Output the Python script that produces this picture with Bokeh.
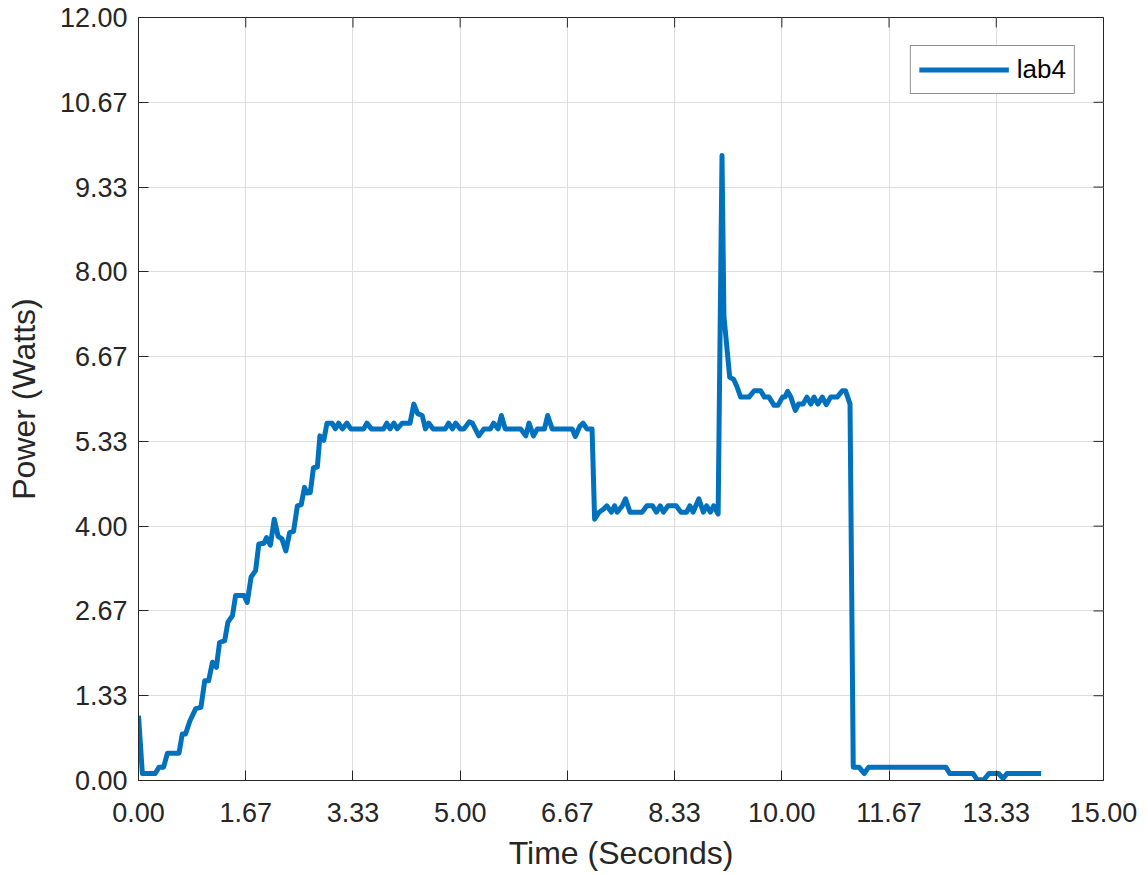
from bokeh.plotting import figure
from bokeh.models import FixedTicker, NumeralTickFormatter, Range1d, Legend, LegendItem
from bokeh.embed import file_html
from bokeh.resources import INLINE

# Data
time_s = [0.00, 0.06, 0.26, 0.32, 0.39, 0.45, 0.63, 0.68, 0.73, 0.80, 0.89, 0.97, 1.03,
          1.09, 1.15, 1.21, 1.26, 1.34, 1.39, 1.46, 1.51, 1.64, 1.69, 1.75, 1.82, 1.87,
          1.95, 1.99, 2.05, 2.11, 2.17, 2.23, 2.29, 2.35, 2.41, 2.47, 2.53, 2.58, 2.62,
          2.67, 2.72, 2.78, 2.82, 2.88, 2.93, 3.01, 3.06, 3.11, 3.17, 3.24, 3.30, 3.50,
          3.55, 3.62, 3.81, 3.86, 3.91, 3.97, 4.02, 4.10, 4.22, 4.28, 4.34, 4.41, 4.46,
          4.51, 4.58, 4.77, 4.82, 4.88, 4.93, 5.00, 5.06, 5.14, 5.19, 5.29, 5.37, 5.47,
          5.52, 5.59, 5.64, 5.70, 5.94, 6.02, 6.07, 6.14, 6.20, 6.31, 6.36, 6.43, 6.74,
          6.79, 6.86, 6.91, 6.97, 7.05, 7.09, 7.16, 7.23, 7.28, 7.35, 7.40, 7.44, 7.52,
          7.57, 7.64, 7.83, 7.90, 7.99, 8.05, 8.11, 8.16, 8.23, 8.36, 8.43, 8.52, 8.57,
          8.62, 8.71, 8.78, 8.83, 8.89, 8.94, 9.01, 9.07, 9.10, 9.19, 9.25, 9.30, 9.36,
          9.49, 9.57, 9.67, 9.73, 9.80, 9.88, 9.94, 10.01, 10.05, 10.09, 10.14, 10.21,
          10.26, 10.33, 10.39, 10.45, 10.50, 10.56, 10.63, 10.69, 10.76, 10.86, 10.94,
          10.99, 11.06, 11.11, 11.20, 11.28, 11.35, 12.55, 12.61, 12.97, 13.04, 13.14,
          13.22, 13.37, 13.44, 13.50, 14.03]
power_w = [1.02, 0.11, 0.11, 0.21, 0.21, 0.43, 0.43, 0.73, 0.73, 0.94, 1.13, 1.15, 1.57,
           1.57, 1.86, 1.78, 2.17, 2.20, 2.49, 2.59, 2.91, 2.91, 2.80, 3.20, 3.30, 3.72,
           3.73, 3.82, 3.70, 4.11, 3.84, 3.80, 3.61, 3.90, 3.92, 4.32, 4.34, 4.61, 4.52,
           4.53, 4.92, 4.93, 5.42, 5.35, 5.62, 5.62, 5.53, 5.62, 5.53, 5.62, 5.53, 5.53,
           5.62, 5.53, 5.53, 5.62, 5.53, 5.62, 5.53, 5.62, 5.62, 5.92, 5.77, 5.74, 5.53,
           5.62, 5.53, 5.53, 5.62, 5.53, 5.62, 5.53, 5.53, 5.64, 5.62, 5.42, 5.53, 5.53,
           5.62, 5.53, 5.74, 5.53, 5.53, 5.42, 5.62, 5.42, 5.53, 5.53, 5.74, 5.53, 5.53,
           5.41, 5.57, 5.62, 5.53, 5.53, 4.11, 4.22, 4.27, 4.32, 4.22, 4.32, 4.22, 4.32,
           4.43, 4.22, 4.22, 4.32, 4.32, 4.22, 4.32, 4.22, 4.32, 4.32, 4.22, 4.22, 4.32,
           4.22, 4.43, 4.22, 4.32, 4.22, 4.32, 4.19, 9.83, 7.30, 6.34, 6.31, 6.20, 6.03,
           6.03, 6.13, 6.13, 6.03, 6.03, 5.90, 5.90, 6.03, 6.03, 6.12, 6.03, 5.82,
           5.92, 5.92, 6.03, 5.92, 6.03, 5.92, 6.03, 5.91, 6.03, 6.03, 6.13,
           6.13, 5.92, 0.21, 0.21, 0.11, 0.21, 0.21, 0.11, 0.11, 0.01, 0.01,
           0.11, 0.11, 0.03, 0.11, 0.11]

x_ticks = [0.0, 5/3, 10/3, 5.0, 20/3, 25/3, 10.0, 35/3, 40/3, 15.0]
y_ticks = [0.0, 4/3, 8/3, 4.0, 16/3, 20/3, 8.0, 28/3, 32/3, 12.0]
x_lim = (0.0, 15.0)
y_lim = (0.0, 12.0)
series_name = "lab4"

FONT = "Liberation Sans"
TXT = "#262626"
BLUE = "#0072BD"

p = figure(width=1140, height=873, output_backend="svg", toolbar_location=None,
           x_range=Range1d(*x_lim), y_range=Range1d(*y_lim),
           min_border_left=138, min_border_right=37, min_border_top=17, min_border_bottom=93)
p.background_fill_color = "white"
p.border_fill_color = "white"
p.outline_line_color = TXT
p.outline_line_width = 1

r = p.line(time_s, power_w, line_color=BLUE, line_width=5, line_join="round")

xa = p.xaxis[0]
ya = p.yaxis[0]
for ax, ticks in ((xa, x_ticks), (ya, y_ticks)):
    ax.ticker = FixedTicker(ticks=ticks)
    ax.formatter = NumeralTickFormatter(format="0.00")
    ax.axis_line_color = TXT
    ax.major_tick_line_color = TXT
    ax.major_tick_in = 10
    ax.major_tick_out = 0
    ax.minor_tick_line_color = None
    ax.major_label_text_font = FONT
    ax.major_label_text_color = TXT
    ax.major_label_text_font_size = "27px"
    ax.axis_label_text_font = FONT
    ax.axis_label_text_font_size = "32px"
    ax.axis_label_text_font_style = "normal"
    ax.axis_label_text_color = TXT
xa.major_label_standoff = 22
ya.major_label_standoff = 11
xa.axis_label = "Time (Seconds)"
ya.axis_label = "Power (Watts)"
xa.axis_label_standoff = 10
ya.axis_label_standoff = 15

# mirrored inward ticks on the top and right edges of the box
p.ray(x=x_ticks, y=[y_lim[1]] * len(x_ticks), length=10, length_units="screen",
      angle=-90, angle_units="deg", line_color=TXT, line_width=1)
p.ray(x=[x_lim[1]] * len(y_ticks), y=y_ticks, length=10, length_units="screen",
      angle=180, angle_units="deg", line_color=TXT, line_width=1)

p.xgrid.ticker = FixedTicker(ticks=x_ticks)
p.ygrid.ticker = FixedTicker(ticks=y_ticks)
for g in (p.xgrid[0], p.ygrid[0]):
    g.grid_line_color = "#dedede"
    g.grid_line_width = 1

legend = Legend(items=[LegendItem(label=series_name, renderers=[r])],
                location="top_right")
legend.margin = 28
legend.padding = 8
legend.spacing = 0
legend.glyph_width = 90
legend.glyph_height = 23
legend.label_height = 23
legend.label_standoff = 8
legend.label_text_font = FONT
legend.label_text_font_size = "26px"
legend.label_text_color = "black"
legend.border_line_color = TXT
legend.border_line_width = 1
legend.background_fill_color = "white"
legend.background_fill_alpha = 1
p.add_layout(legend, "center")

open("out.html", "w").write(file_html(p, INLINE))
